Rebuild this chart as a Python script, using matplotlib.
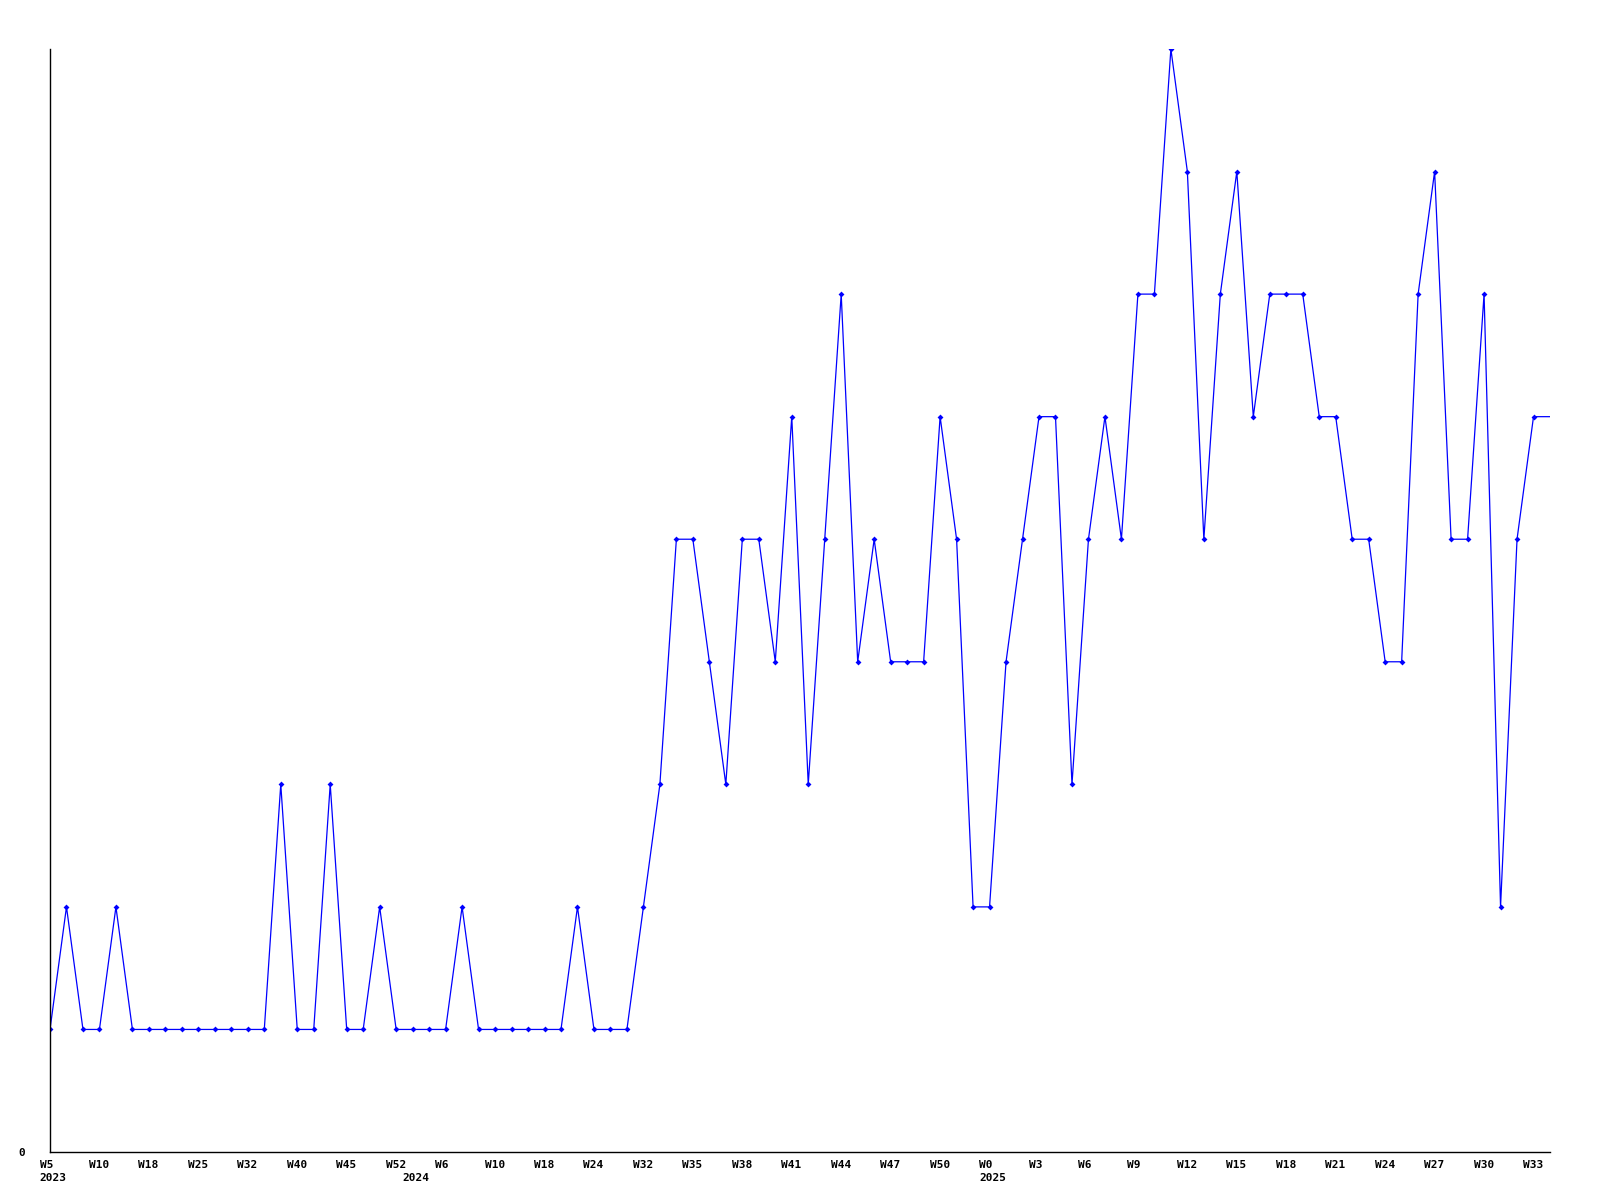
import numpy as np
import matplotlib
matplotlib.use('Agg')
from matplotlib import pyplot as plt
from matplotlib import transforms

# weekly counts
counts = [1, 2, 1, 1, 2, 1, 1, 1, 1, 1, 1, 1, 1, 1, 3, 1, 1, 3, 1, 1,
          2, 1, 1, 1, 1, 2, 1, 1, 1, 1, 1, 1, 2, 1, 1, 1, 2, 3, 5, 5,
          4, 3, 5, 5, 4, 6, 3, 5, 7, 4, 5, 4, 4, 4, 6, 5, 2, 2, 4, 5,
          6, 6, 3, 5, 6, 5, 7, 7, 9, 8, 5, 7, 8, 6, 7, 7, 7, 6, 6, 5,
          5, 4, 4, 7, 8, 5, 5, 7, 2, 5, 6, 6]

week_labels = ['W5', 'W10', 'W18', 'W25', 'W32', 'W40', 'W45', 'W52',
               'W6', 'W10', 'W18', 'W24', 'W32', 'W35', 'W38', 'W41',
               'W44', 'W47', 'W50', 'W0', 'W3', 'W6', 'W9', 'W12',
               'W15', 'W18', 'W21', 'W24', 'W27', 'W30', 'W33']
year_labels = ['2023', '2024', '2025']
year_index = [0, 22, 57]   # first sample of each year
tick_step = 3

x = np.arange(len(counts))
font = dict(family='DejaVu Sans Mono', weight='bold', size=8)

fig = plt.figure(figsize=(16, 12), dpi=100)
ax = fig.add_axes([50/1600, 48/1200, 1500/1600, 1103/1200])

ax.plot(x, counts, color='#0000ff', linewidth=0.9, marker='D', markersize=3,
        markeredgewidth=0, markevery=slice(0, len(counts) - 1))

ax.set_xlim(0, len(counts) - 1)
ax.set_ylim(0, 9)

for side in ('top', 'right'):
    ax.spines[side].set_visible(False)
for side in ('left', 'bottom'):
    ax.spines[side].set_linewidth(1.0)
    ax.spines[side].set_color('black')

# x labels drawn as text, shifted a bit left of each tick
ax.set_xticks([])
week_tr = ax.get_xaxis_transform() + transforms.ScaledTranslation(
    -10.5/100, -8/100, fig.dpi_scale_trans)
year_tr = ax.get_xaxis_transform() + transforms.ScaledTranslation(
    -10.5/100, -21/100, fig.dpi_scale_trans)
ticks = x[::tick_step][:len(week_labels)]
for pos, w in zip(ticks, week_labels):
    ax.text(pos, 0, w, transform=week_tr, ha='left', va='top', fontdict=font)
for pos, yr in zip(year_index, year_labels):
    ax.text(x[pos], 0, yr, transform=year_tr, ha='left', va='top', fontdict=font)

ax.set_yticks([0])
ax.set_yticklabels(['0'], fontdict=font)
ax.tick_params(axis='y', length=0, pad=18)

fig.savefig('out.png', dpi=100)
